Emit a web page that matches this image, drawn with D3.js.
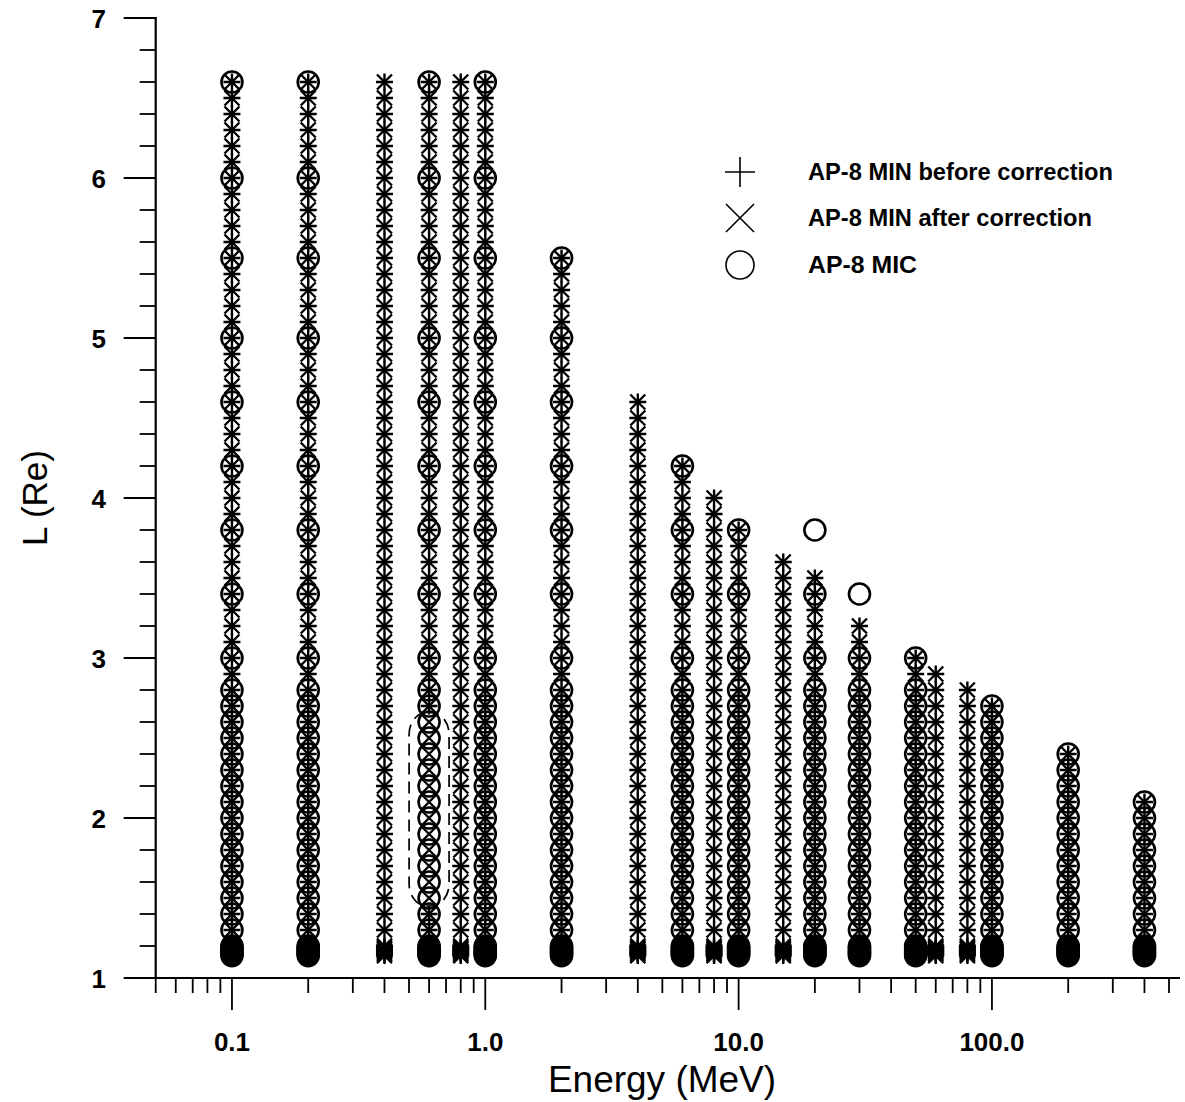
<!DOCTYPE html>
<html>
<head>
<meta charset="utf-8">
<script src="https://cdn.jsdelivr.net/npm/d3@7"></script>
<style>
  html, body { margin: 0; padding: 0; background: #fff; }
  svg { display: block; }
  text { font-family: Arial, "Liberation Sans", sans-serif; fill: #000; }
</style>
</head>
<body>
<svg id="chart" width="1185" height="1102"></svg>
<script>
// ---------------- DATA ----------------
const energies = [0.1, 0.2, 0.4, 0.6, 0.8, 1.0, 2.0, 4.0, 6.0, 8.0, 10, 15, 20, 30, 50, 60, 80, 100, 200, 400];
// highest L of AP-8 MIN points (before & after correction) per energy
const minTopL = [6.6, 6.6, 6.6, 6.6, 6.6, 6.6, 5.5, 4.6, 4.2, 4.0, 3.8, 3.6, 3.5, 3.2, 3.0, 2.9, 2.8, 2.7, 2.4, 2.1];
// highest L of AP-8 MIC points per energy (null = no MIC points)
const micTopL = [6.6, 6.6, null, 6.6, null, 6.6, 5.5, null, 4.2, null, 3.8, null, 3.8, 3.4, 3.0, null, null, 2.7, 2.4, 2.1];
// L grid of the AP-8 MIN tables
const minL = [1.14, 1.15, 1.16, 1.17, 1.18, 1.19, 1.2,
  1.3, 1.4, 1.5, 1.6, 1.7, 1.8, 1.9, 2.0, 2.1, 2.2, 2.3, 2.4, 2.5, 2.6, 2.7, 2.8, 2.9,
  3.0, 3.1, 3.2, 3.3, 3.4, 3.5, 3.6, 3.7, 3.8, 3.9, 4.0, 4.1, 4.2, 4.3, 4.4, 4.5, 4.6,
  4.7, 4.8, 4.9, 5.0, 5.1, 5.2, 5.3, 5.4, 5.5, 5.6, 5.7, 5.8, 5.9, 6.0, 6.1, 6.2, 6.3,
  6.4, 6.5, 6.6];
// L grid of the AP-8 MIC tables
const micL = [1.14, 1.15, 1.16, 1.17, 1.18, 1.19, 1.2,
  1.3, 1.4, 1.5, 1.6, 1.7, 1.8, 1.9, 2.0, 2.1, 2.2, 2.3, 2.4, 2.5, 2.6, 2.7, 2.8,
  3.0, 3.4, 3.8, 4.2, 4.6, 5.0, 5.5, 6.0, 6.6];
// "before correction" points missing at 0.6 MeV for these L (highlighted by dashed box)
const gapEnergy = 0.6;
const gapL = [1.5, 2.6];
const boxL = [1.45, 2.66];

const xTickMajor = [0.1, 1, 10, 100];
const xTickLabels = ["0.1", "1.0", "10.0", "100.0"];
const xTickMinor = [0.05, 0.06, 0.07, 0.08, 0.09, 0.2, 0.3, 0.4, 0.5, 0.6, 0.7, 0.8, 0.9,
  2, 3, 4, 5, 6, 7, 8, 9, 20, 30, 40, 50, 60, 70, 80, 90, 200, 300, 400, 500];
const yTickMajor = [1, 2, 3, 4, 5, 6, 7];
const yTickMinor = [1.2, 1.4, 1.6, 1.8, 2.2, 2.4, 2.6, 2.8, 3.2, 3.4, 3.6, 3.8, 4.2, 4.4, 4.6, 4.8,
  5.2, 5.4, 5.6, 5.8, 6.2, 6.4, 6.6, 6.8];

const legendItems = ["AP-8 MIN before correction", "AP-8 MIN after correction", "AP-8 MIC"];
const legendWidths = [305, 284, 109];

// ---------------- SCALES ----------------
const svg = d3.select("#chart");
const x = d3.scaleLog().domain([0.05, 500]).range([155.7, 1169]);
const y = d3.scaleLinear().domain([1, 7]).range([978, 18]);

// ---------------- POINTS ----------------
const plusPts = [], crossPts = [], circPts = [];
energies.forEach((e, i) => {
  minL.forEach(L => {
    if (L <= minTopL[i] + 1e-9) {
      crossPts.push({e, L});
      const inGap = (e === gapEnergy && L >= gapL[0] - 1e-9 && L <= gapL[1] + 1e-9);
      if (!inGap) plusPts.push({e, L});
    }
  });
  if (micTopL[i] !== null) {
    micL.forEach(L => { if (L <= micTopL[i] + 1e-9) circPts.push({e, L}); });
  }
});

const gPts = svg.append("g");
gPts.selectAll("circle.mic").data(circPts).join("circle")
  .attr("class", "mic")
  .attr("cx", d => x(d.e)).attr("cy", d => y(d.L)).attr("r", 10.5)
  .attr("fill", "none").attr("stroke", "#000").attr("stroke-width", 2.6);

const ph = 8.5;
gPts.selectAll("path.plus").data(plusPts).join("path")
  .attr("class", "plus")
  .attr("transform", d => `translate(${x(d.e)},${y(d.L)})`)
  .attr("d", `M${-ph},0H${ph}M0,${-ph}V${ph}`)
  .attr("fill", "none").attr("stroke", "#000").attr("stroke-width", 2.4);

const xh = 7.5;
gPts.selectAll("path.cross").data(crossPts).join("path")
  .attr("class", "cross")
  .attr("transform", d => `translate(${x(d.e)},${y(d.L)})`)
  .attr("d", `M${-xh},${-xh}L${xh},${xh}M${-xh},${xh}L${xh},${-xh}`)
  .attr("fill", "none").attr("stroke", "#000").attr("stroke-width", 2.4);

// dashed box around the 0.6 MeV gap
const bx0 = x(gapEnergy) - 20, bx1 = x(gapEnergy) + 20;
svg.append("rect")
  .attr("x", bx0).attr("y", y(boxL[1]))
  .attr("width", bx1 - bx0).attr("height", y(boxL[0]) - y(boxL[1]))
  .attr("rx", 18).attr("ry", 22)
  .attr("fill", "none").attr("stroke", "#000").attr("stroke-width", 1.7)
  .attr("stroke-dasharray", "12,7");

// ---------------- AXES ----------------
const axG = svg.append("g");
// x axis
axG.append("line").attr("x1", 155).attr("x2", 1180).attr("y1", y(1)).attr("y2", y(1))
  .attr("stroke", "#000").attr("stroke-width", 2.2);
axG.selectAll("line.xmaj").data(xTickMajor).join("line")
  .attr("x1", d => x(d)).attr("x2", d => x(d)).attr("y1", y(1)).attr("y2", y(1) + 32)
  .attr("stroke", "#000").attr("stroke-width", 1.8);
axG.selectAll("line.xmin").data(xTickMinor).join("line")
  .attr("x1", d => x(d)).attr("x2", d => x(d)).attr("y1", y(1)).attr("y2", y(1) + 15)
  .attr("stroke", "#000").attr("stroke-width", 1.8);
axG.selectAll("text.xlab").data(xTickMajor).join("text")
  .attr("x", d => x(d)).attr("y", 1051)
  .attr("text-anchor", "middle").attr("font-size", 26).attr("font-weight", "bold")
  .text((d, i) => xTickLabels[i]);

// y axis
axG.append("line").attr("x1", x(0.05)).attr("x2", x(0.05)).attr("y1", y(7) - 1).attr("y2", y(1) + 1)
  .attr("stroke", "#000").attr("stroke-width", 2.2);
axG.selectAll("line.ymaj").data(yTickMajor).join("line")
  .attr("x1", x(0.05) - 32).attr("x2", x(0.05)).attr("y1", d => y(d)).attr("y2", d => y(d))
  .attr("stroke", "#000").attr("stroke-width", 1.8);
axG.selectAll("line.ymin").data(yTickMinor).join("line")
  .attr("x1", x(0.05) - 16).attr("x2", x(0.05)).attr("y1", d => y(d)).attr("y2", d => y(d))
  .attr("stroke", "#000").attr("stroke-width", 1.8);
axG.selectAll("text.ylab").data(yTickMajor).join("text")
  .attr("x", 106).attr("y", d => y(d) + 9.5)
  .attr("text-anchor", "end").attr("font-size", 26).attr("font-weight", "bold")
  .text(d => d);

// axis titles
svg.append("text").attr("x", 662).attr("y", 1092)
  .attr("text-anchor", "middle").attr("font-size", 37)
  .text("Energy (MeV)");
svg.append("text")
  .attr("transform", "translate(47,498) rotate(-90)")
  .attr("text-anchor", "middle").attr("font-size", 35)
  .text("L (Re)");

// ---------------- LEGEND ----------------
const lg = svg.append("g");
const lx = 740, ly = [172, 218, 265];
lg.append("path").attr("d", `M${lx - 15},${ly[0]}H${lx + 15}M${lx},${ly[0] - 15}V${ly[0] + 15}`)
  .attr("stroke", "#000").attr("stroke-width", 1.6).attr("fill", "none");
lg.append("path").attr("d", `M${lx - 14},${ly[1] - 14}L${lx + 14},${ly[1] + 14}M${lx - 14},${ly[1] + 14}L${lx + 14},${ly[1] - 14}`)
  .attr("stroke", "#000").attr("stroke-width", 1.6).attr("fill", "none");
lg.append("circle").attr("cx", lx).attr("cy", ly[2]).attr("r", 14)
  .attr("stroke", "#000").attr("stroke-width", 1.6).attr("fill", "none");
lg.selectAll("text").data(legendItems).join("text")
  .attr("x", 808).attr("y", (d, i) => ly[i] + 8)
  .attr("font-size", 23).attr("font-weight", "bold")
  .attr("textLength", (d, i) => legendWidths[i]).attr("lengthAdjust", "spacingAndGlyphs")
  .text(d => d);
</script>
</body>
</html>
